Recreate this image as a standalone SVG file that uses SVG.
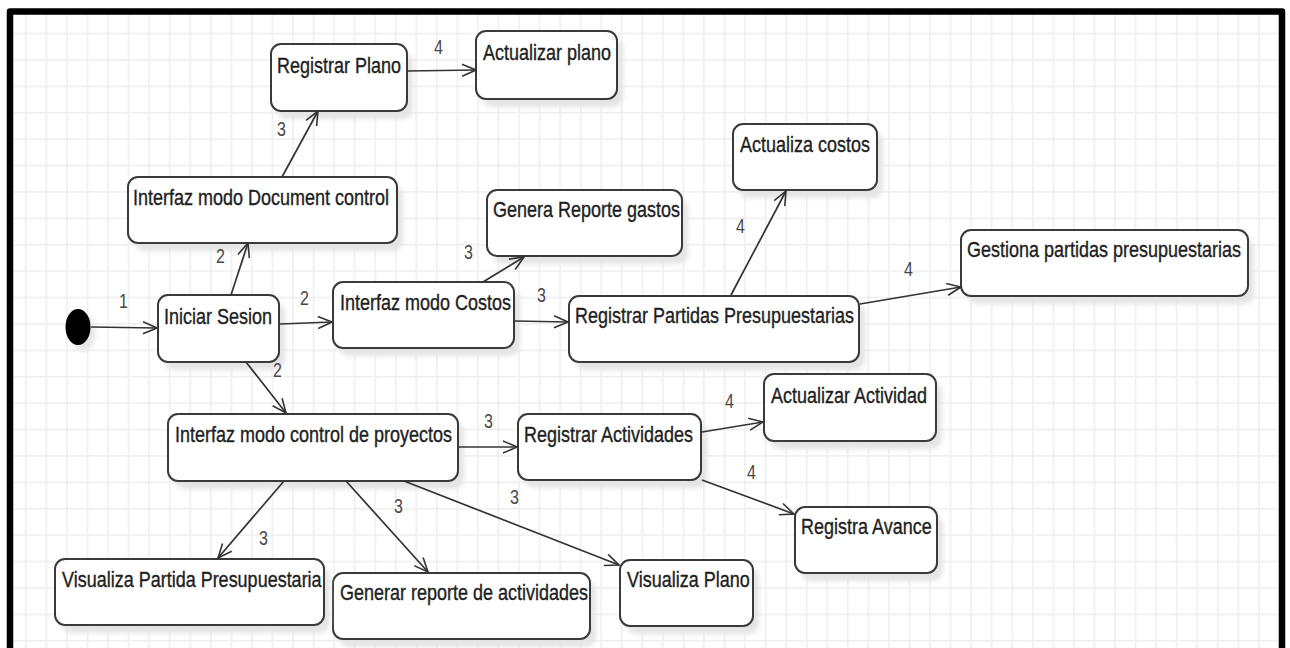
<svg xmlns="http://www.w3.org/2000/svg" width="1290" height="648" viewBox="0 0 1290 648">
  <defs>
    <pattern id="grid" x="25" y="6.3" width="20.55" height="26.4" patternUnits="userSpaceOnUse">
      <rect x="0" y="0" width="1.6" height="26.4" fill="#efefef"/>
      <rect x="0" y="0" width="20.55" height="1.6" fill="#efefef"/>
    </pattern>
    <filter id="soft" x="-10%" y="-20%" width="130%" height="150%">
      <feGaussianBlur stdDeviation="2.5"/>
    </filter>
    <marker id="arr" markerWidth="16" markerHeight="14" refX="15" refY="7" orient="auto" markerUnits="userSpaceOnUse">
      <path d="M1,1 L15,7 L1,13" fill="none" stroke="#333" stroke-width="1.6"/>
    </marker>
    <style>
      .shadow { fill: #e4e4e4; filter: url(#soft); }
      .box { fill: #ffffff; stroke: #3a3a3a; stroke-width: 2; }
      .name { font-family: "Liberation Sans", Arial, sans-serif; font-size: 18px; fill: #1e1e1e; stroke: #1e1e1e; stroke-width: 0.3; }
      .lbl { font-family: "Liberation Sans", Arial, sans-serif; font-size: 16px; fill: #474747; }
      .edge { fill: none; stroke: #333; stroke-width: 1.7; marker-end: url(#arr); }
    </style>
  </defs>

  <!-- page and grid -->
  <rect x="0" y="0" width="1290" height="648" fill="#ffffff"/>
  <rect x="13" y="14" width="1266" height="634" fill="url(#grid)"/>

  <!-- initial state -->
  <g id="start">
    <ellipse cx="83" cy="333" rx="12.5" ry="18" fill="#e6e6e6" filter="url(#soft)"/>
    <ellipse cx="78" cy="327" rx="12.5" ry="18" fill="#000"/>
  </g>

  <!-- states: names are set in a condensed cut (tall glyphs) -->
  <g id="iniciar-sesion">
    <rect class="shadow" x="164" y="303" width="121" height="67" rx="10"/>
    <rect class="box" x="158" y="295" width="121" height="67" rx="10"/>
    <text class="name" transform="translate(164,324) scale(1,1.22)">Iniciar Sesion</text>
  </g>

  <g id="interfaz-document-control">
    <rect class="shadow" x="134" y="185" width="269" height="66" rx="10"/>
    <rect class="box" x="128" y="177" width="269" height="66" rx="10"/>
    <text class="name" transform="translate(133,205) scale(1,1.22)">Interfaz modo Document control</text>
  </g>

  <g id="registrar-plano">
    <rect class="shadow" x="277" y="52" width="136" height="67" rx="10"/>
    <rect class="box" x="271" y="44" width="136" height="67" rx="10"/>
    <text class="name" transform="translate(277,73) scale(1,1.22)">Registrar Plano</text>
  </g>

  <g id="actualizar-plano">
    <rect class="shadow" x="482" y="39" width="141" height="68" rx="10"/>
    <rect class="box" x="476" y="31" width="141" height="68" rx="10"/>
    <text class="name" transform="translate(483,60) scale(1,1.22)">Actualizar plano</text>
  </g>

  <g id="interfaz-costos">
    <rect class="shadow" x="339" y="290" width="181" height="66" rx="10"/>
    <rect class="box" x="333" y="282" width="181" height="66" rx="10"/>
    <text class="name" transform="translate(340,310) scale(1,1.22)">Interfaz modo Costos</text>
  </g>

  <g id="genera-reporte-gastos">
    <rect class="shadow" x="493" y="198" width="195" height="66" rx="10"/>
    <rect class="box" x="487" y="190" width="195" height="66" rx="10"/>
    <text class="name" transform="translate(493,217) scale(1,1.22)">Genera Reporte gastos</text>
  </g>

  <g id="registrar-partidas">
    <rect class="shadow" x="575" y="304" width="290" height="66" rx="10"/>
    <rect class="box" x="569" y="296" width="290" height="66" rx="10"/>
    <text class="name" transform="translate(575,323) scale(1,1.22)">Registrar Partidas Presupuestarias</text>
  </g>

  <g id="actualiza-costos">
    <rect class="shadow" x="739" y="132" width="144" height="66" rx="10"/>
    <rect class="box" x="733" y="124" width="144" height="66" rx="10"/>
    <text class="name" transform="translate(740,152) scale(1,1.22)">Actualiza costos</text>
  </g>

  <g id="gestiona-partidas">
    <rect class="shadow" x="967" y="238" width="287" height="66" rx="10"/>
    <rect class="box" x="961" y="230" width="287" height="66" rx="10"/>
    <text class="name" transform="translate(967,257) scale(1,1.22)">Gestiona partidas presupuestarias</text>
  </g>

  <g id="interfaz-control-proyectos">
    <rect class="shadow" x="174" y="422" width="290" height="67" rx="10"/>
    <rect class="box" x="168" y="414" width="290" height="67" rx="10"/>
    <text class="name" transform="translate(175,442) scale(1,1.22)">Interfaz modo control de proyectos</text>
  </g>

  <g id="registrar-actividades">
    <rect class="shadow" x="524" y="422" width="183" height="66" rx="10"/>
    <rect class="box" x="518" y="414" width="183" height="66" rx="10"/>
    <text class="name" transform="translate(524,442) scale(1,1.22)">Registrar Actividades</text>
  </g>

  <g id="actualizar-actividad">
    <rect class="shadow" x="770" y="382" width="172" height="67" rx="10"/>
    <rect class="box" x="764" y="374" width="172" height="67" rx="10"/>
    <text class="name" transform="translate(771,403) scale(1,1.22)">Actualizar Actividad</text>
  </g>

  <g id="registra-avance">
    <rect class="shadow" x="801" y="515" width="142" height="66" rx="10"/>
    <rect class="box" x="795" y="507" width="142" height="66" rx="10"/>
    <text class="name" transform="translate(801,534) scale(1,1.22)">Registra Avance</text>
  </g>

  <g id="visualiza-plano">
    <rect class="shadow" x="626" y="568" width="133" height="66" rx="10"/>
    <rect class="box" x="620" y="560" width="133" height="66" rx="10"/>
    <text class="name" transform="translate(627,587) scale(1,1.22)">Visualiza Plano</text>
  </g>

  <g id="generar-reporte-actividades">
    <rect class="shadow" x="339" y="581" width="257" height="66" rx="10"/>
    <rect class="box" x="333" y="573" width="257" height="66" rx="10"/>
    <text class="name" transform="translate(340,600) scale(1,1.22)">Generar reporte de actividades</text>
  </g>

  <g id="visualiza-partida">
    <rect class="shadow" x="61" y="567" width="269" height="66" rx="10"/>
    <rect class="box" x="55" y="559" width="269" height="66" rx="10"/>
    <text class="name" transform="translate(62,587) scale(1,1.22)">Visualiza Partida Presupuestaria</text>
  </g>

  <!-- transitions -->
  <g id="connectors">
    <line class="edge" x1="91" y1="327" x2="157" y2="328"/>
    <line class="edge" x1="231" y1="295" x2="248" y2="243"/>
    <line class="edge" x1="282" y1="177" x2="318" y2="111"/>
    <line class="edge" x1="407" y1="71" x2="476" y2="70"/>
    <line class="edge" x1="280" y1="324" x2="332" y2="322"/>
    <line class="edge" x1="246" y1="362" x2="286" y2="413"/>
    <line class="edge" x1="483" y1="282" x2="524" y2="257"/>
    <line class="edge" x1="515" y1="321" x2="568" y2="322"/>
    <line class="edge" x1="731" y1="295" x2="786" y2="191"/>
    <line class="edge" x1="860" y1="304" x2="961" y2="287"/>
    <line class="edge" x1="459" y1="447" x2="517" y2="447"/>
    <line class="edge" x1="702" y1="432" x2="763" y2="422"/>
    <line class="edge" x1="702" y1="480" x2="794" y2="514"/>
    <line class="edge" x1="404" y1="481" x2="619" y2="565"/>
    <line class="edge" x1="346" y1="481" x2="428" y2="572"/>
    <line class="edge" x1="284" y1="481" x2="218" y2="558"/>

    <text class="lbl" transform="translate(119,308) scale(1,1.22)">1</text>
    <text class="lbl" transform="translate(216,263) scale(1,1.22)">2</text>
    <text class="lbl" transform="translate(277,136) scale(1,1.22)">3</text>
    <text class="lbl" transform="translate(434,54) scale(1,1.22)">4</text>
    <text class="lbl" transform="translate(300,305) scale(1,1.22)">2</text>
    <text class="lbl" transform="translate(273,377) scale(1,1.22)">2</text>
    <text class="lbl" transform="translate(464,259) scale(1,1.22)">3</text>
    <text class="lbl" transform="translate(537,302) scale(1,1.22)">3</text>
    <text class="lbl" transform="translate(736,233) scale(1,1.22)">4</text>
    <text class="lbl" transform="translate(904,276) scale(1,1.22)">4</text>
    <text class="lbl" transform="translate(484,428) scale(1,1.22)">3</text>
    <text class="lbl" transform="translate(725,408) scale(1,1.22)">4</text>
    <text class="lbl" transform="translate(747,479) scale(1,1.22)">4</text>
    <text class="lbl" transform="translate(510,504) scale(1,1.22)">3</text>
    <text class="lbl" transform="translate(394,513) scale(1,1.22)">3</text>
    <text class="lbl" transform="translate(259,545) scale(1,1.22)">3</text>
  </g>

  <!-- outer frame -->
  <path d="M10,648 V11.5 H1282 V648" fill="none" stroke="#000" stroke-width="6.5" stroke-linejoin="round"/>
</svg>
